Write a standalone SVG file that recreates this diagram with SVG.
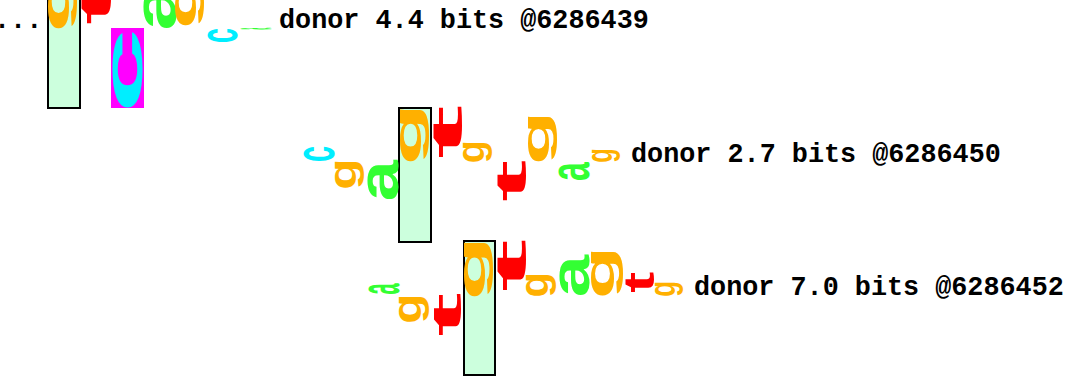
<svg xmlns="http://www.w3.org/2000/svg" width="1076" height="381" viewBox="0 0 1076 381">
<style>
.L{font-family:"Liberation Sans",Arial,sans-serif;font-weight:bold;font-size:100px}
.a{fill:#33ff33}.c{fill:#00eeff}.g{fill:#ffb000}.t{fill:#ff0000}
.box{fill:#ccffdd;stroke:#000;stroke-width:2}
.lab{font-family:"Liberation Mono","Courier New",monospace;font-weight:bold;font-size:26.8px;fill:#000}
</style>
<rect width="1076" height="381" fill="#fff"/>
<g id="walker1">
<text class="lab" x="-6" y="28">...</text>
<rect class="box" x="48" y="-26" width="32" height="134"/>
<rect x="111" y="28" width="33" height="80" fill="#ff00ff"/>
<text class="L g" transform="translate(68.81,32.63) rotate(-90) scale(1.0672,0.3811)">g</text>
<text class="L t" transform="translate(111.38,24.64) rotate(-90) scale(1.2625,0.4451)">t</text>
<text class="L c" transform="translate(142.23,113.39) rotate(-90) scale(1.54,0.5536)">c</text>
<text class="L a" transform="translate(176.15,30.49) rotate(-90) scale(0.8583,0.6071)">a</text>
<text class="L g" transform="translate(195.81,29.09) rotate(-90) scale(0.9091,0.3811)">g</text>
<text class="L c" transform="translate(237.23,42.93) rotate(-90) scale(0.2669,0.5536)">c</text>
<text class="L a" transform="translate(271.2,29.59) rotate(-90) scale(0.02994,0.5714)">a</text>
<text class="lab" x="279" y="28">donor 4.4 bits @6286439</text>
</g>
<g id="walker2">
<rect class="box" x="399" y="108" width="32" height="134"/>
<text class="L c" transform="translate(334.2,162) rotate(-90) scale(0.2875,0.5714)">c</text>
<text class="L g" transform="translate(355.81,189.75) rotate(-90) scale(0.5138,0.3811)">g</text>
<text class="L a" transform="translate(398.2,201.14) rotate(-90) scale(0.7385,0.5714)">a</text>
<text class="L g" transform="translate(420.81,165.49) rotate(-90) scale(1.0277,0.3811)">g</text>
<text class="L t" transform="translate(462.42,159.12) rotate(-90) scale(1.6279,0.4172)">t</text>
<text class="L g" transform="translate(483.81,163.28) rotate(-90) scale(0.3755,0.3811)">g</text>
<text class="L t" transform="translate(526.42,201.64) rotate(-90) scale(1.2625,0.4172)">t</text>
<text class="L g" transform="translate(548.52,165.02) rotate(-90) scale(0.8893,0.3942)">g</text>
<text class="L a" transform="translate(589.2,180.98) rotate(-90) scale(0.3393,0.5714)">a</text>
<text class="L g" transform="translate(612.09,162.81) rotate(-90) scale(0.2372,0.3679)">g</text>
<text class="lab" x="631" y="162">donor 2.7 bits @6286450</text>
</g>
<g id="walker3">
<rect class="box" x="464" y="241" width="31" height="134"/>
<text class="L a" transform="translate(399.2,294.58) rotate(-90) scale(0.1996,0.5714)">a</text>
<text class="L g" transform="translate(421.24,323.68) rotate(-90) scale(0.4941,0.4074)">g</text>
<text class="L t" transform="translate(461.44,336.73) rotate(-90) scale(1.3289,0.4033)">t</text>
<text class="L g" transform="translate(484.81,300.63) rotate(-90) scale(1.0672,0.3811)">g</text>
<text class="L t" transform="translate(526.42,292.07) rotate(-90) scale(1.5947,0.4172)">t</text>
<text class="L g" transform="translate(548.24,297.41) rotate(-90) scale(0.415,0.4074)">g</text>
<text class="L a" transform="translate(589.23,297.2) rotate(-90) scale(0.7585,0.5536)">a</text>
<text class="L g" transform="translate(613.68,298.96) rotate(-90) scale(0.8696,0.4336)">g</text>
<text class="L t" transform="translate(654.42,292.82) rotate(-90) scale(0.6312,0.4172)">t</text>
<text class="L g" transform="translate(675.09,296.87) rotate(-90) scale(0.2569,0.3679)">g</text>
<text class="lab" x="694" y="295">donor 7.0 bits @6286452</text>
</g>
</svg>
